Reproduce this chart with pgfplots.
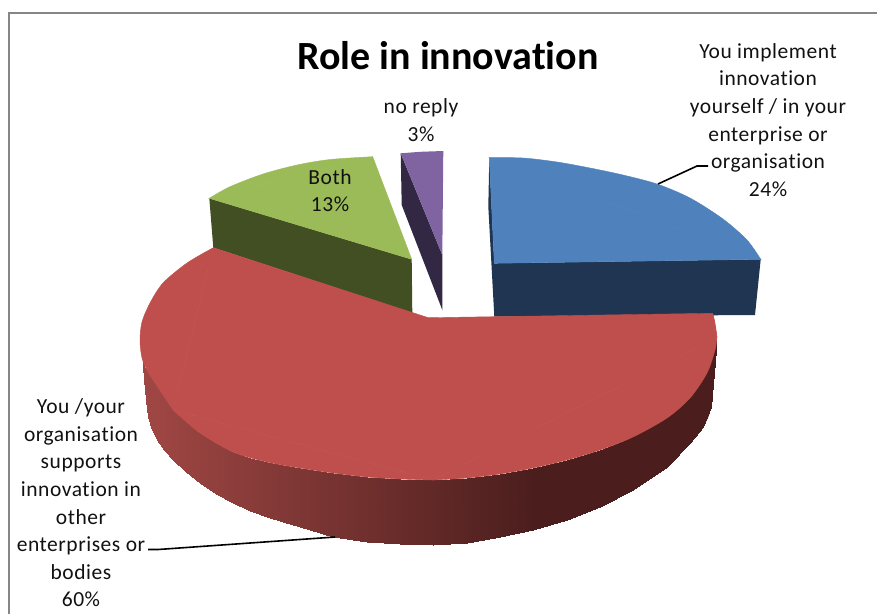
\documentclass[border=0pt]{standalone}
\usepackage{pgfplots}
\pgfplotsset{compat=1.18}
\usepackage{fontspec}
\setmainfont{Carlito}[Ligatures=CommonOff]
\newfontfamily\lab{Carlito}[Ligatures=CommonOff, LetterSpace=2.5]

\definecolor{frameg}{HTML}{868686}
\definecolor{bluetop}{HTML}{4F81BD}
\definecolor{blueside}{HTML}{1F3552}
\definecolor{redtop}{HTML}{BE4F4C}
\definecolor{redside}{HTML}{4B1E1D}
\definecolor{greentop}{HTML}{9BBB59}
\definecolor{greenside}{HTML}{414F22}
\definecolor{purpletop}{HTML}{8064A2}
\definecolor{purpleside}{HTML}{332843}
\definecolor{txt}{HTML}{111111}

\begin{document}
\begin{tikzpicture}
\begin{axis}[
    width=877pt, height=614pt, scale only axis,
    xmin=0, xmax=877, ymin=0, ymax=614,
    y dir=reverse,
    hide axis,
    no markers,
    colormap={redwall}{rgb255=(160,71,68); rgb255=(75,30,29)},
    point meta min=0, point meta max=1,
]
% chart frame, cut off by the screenshot on the right and below
\addplot[frameg, line width=2pt] coordinates {(9,614) (9,13) (877,13)};

% blue: 24%
\addplot[fill=blueside, draw=none] coordinates {(489.3,157.7) (488.3,206.7) (494.3,316.7) (755,315) (760.7,259.3) (494.3,263.3)} --cycle;
\addplot[fill=bluetop, draw=bluetop, line width=0.4pt] coordinates {(489.3,157.7) (760.7,259.3) (494.3,263.3)} --cycle;
\addplot[fill=bluetop, draw=bluetop, line width=0.4pt, smooth] coordinates {(489.3,157.7) (523,158) (557,162) (590,168) (623,175) (657,184) (690,198) (723,219) (747,240) (760.7,259.3)} --cycle;

% purple: 3%
\addplot[fill=purpleside, draw=none] coordinates {(400.7,153.3) (401.7,205) (442.3,310) (442.3,255)} --cycle;
\addplot[fill=purpletop, draw=none] coordinates {(400.7,153.3) (420,151.8) (443.3,151) (442.3,255)} --cycle;

% green: 13%
\addplot[fill=greenside, draw=none] coordinates {(209.3,198.3) (213.3,247.7) (412.3,313) (411.7,259.3)} --cycle;
\addplot[fill=greentop, draw=greentop, line width=0.4pt] coordinates {(209.3,198.3) (372.7,156.7) (411.7,259.3)} --cycle;
\addplot[fill=greentop, draw=greentop, line width=0.4pt, smooth] coordinates {(209.3,198.3) (230,186.7) (263,174) (297,165) (330,159.5) (372.7,156.7)} --cycle;

% red: 60%, side wall first
\addplot[fill=redside, draw=none, smooth] coordinates {(533,530) (567,520) (600,507) (633,490) (667,467) (690,443) (703,427) (711,407) (716,350)};
\addplot[surf, shader=interp, mesh/cols=2, point meta=\thisrow{c}] table {
x y c
142 345 0
142 350 0
144 367 0.01
144 380 0.01
146 369 0.01
146 400 0.01
148 372 0.01
148 417 0.01
152 378 0.02
152 430 0.02
157 386 0.03
157 440 0.03
164 397 0.05
164 450 0.05
173 410 0.07
173 460 0.07
186 422 0.11
186 472 0.11
200 433 0.14
200 483 0.14
216 443 0.18
216 494 0.18
233 452 0.23
233 503 0.23
250 458 0.27
250 511 0.27
267 462 0.32
267 517 0.32
283 465 0.36
283 522 0.36
300 468 0.40
300 527 0.40
333 473 0.49
333 537 0.49
367 477 0.57
367 542 0.57
400 479 0.66
400 544 0.66
433 480 0.74
433 545 0.74
467 478 0.83
467 543 0.83
500 474 0.92
500 537 0.92
533 468 1
533 530 1
567 460 1
567 520 1
600 450 1
600 507 1
633 437 1
633 490 1
667 418 1
667 467 1
690 398 1
690 443 1
703 379 1
703 427 1
711 362 1
711 407 1
716 340 1
716 350 1
};
\addplot[fill=redtop, draw=redtop, line width=0.4pt] coordinates {(213.3,247.7) (173,410) (433,480) (717,337) (712.7,313.3) (428.3,317.7) (412.3,312.5)} --cycle;
\addplot[fill=redtop, draw=redtop, line width=0.4pt, smooth] coordinates {(213.3,247.7) (187,263) (163,283) (150,303) (142,322) (140,340) (142,358) (148,372) (157,386) (173,410)} --cycle;
\addplot[fill=redtop, draw=redtop, line width=0.4pt, smooth] coordinates {(173,410) (200,433) (233,452) (267,462) (300,468) (333,473) (367,477) (400,479) (433,480)} --cycle;
\addplot[fill=redtop, draw=redtop, line width=0.4pt, smooth] coordinates {(433,480) (467,478) (500,474) (533,468) (567,460) (600,450) (633,437) (667,418) (690,398) (707,373) (715,350) (717,337)} --cycle;
\addplot[fill=redtop, draw=redtop, line width=0.4pt, smooth] coordinates {(717,337) (715,323) (712.7,313.3)} --cycle;

% leader lines
\addplot[black, line width=1.6pt] coordinates {(658,184) (697,166) (708,166)};
\addplot[black, line width=1.6pt] coordinates {(148,549.5) (158,549.5) (335,537)};

% labels
\node[font=\bfseries\fontsize{40}{46}\selectfont, text=black] at (axis cs:448,56) {Role in innovation};
\node[font=\lab\fontsize{21.5}{27.6}\selectfont, text=txt, align=center] at (axis cs:768,120) {You implement\\innovation\\yourself / in your\\enterprise or\\organisation\\24\%};
\node[font=\lab\fontsize{21.5}{27.6}\selectfont, text=txt, align=center] at (axis cs:421,120) {no reply\\3\%};
\node[font=\lab\fontsize{21.5}{27.6}\selectfont, text=txt, align=center] at (axis cs:330,190.5) {Both\\13\%};
\node[font=\lab\fontsize{21.5}{27.6}\selectfont, text=txt, align=center] at (axis cs:81,503) {You /your\\organisation\\supports\\innovation in\\other\\enterprises or\\bodies\\60\%};
\path (axis cs:0,0) rectangle (axis cs:877,614);
\end{axis}
\end{tikzpicture}
\end{document}
